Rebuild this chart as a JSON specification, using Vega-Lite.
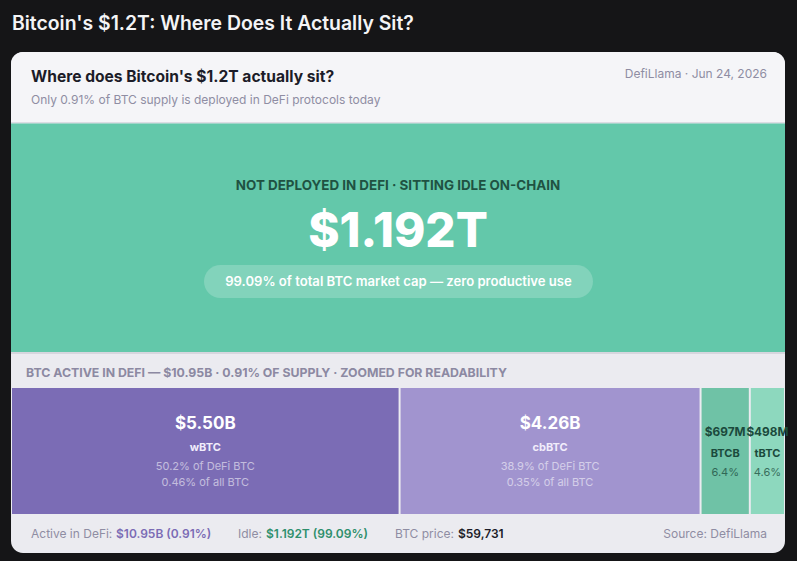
{
  "$schema": "https://vega.github.io/schema/vega-lite/v6.json",
  "width": 797,
  "height": 561,
  "padding": 0,
  "autosize": {"type": "none"},
  "background": "#151517",
  "config": {"view": {"stroke": null}, "text": {"font": "Inter"}},
  "datasets": {
    "one": [{}],
    "defi": [
      {"name": "wBTC", "value": 5.50, "label": "$5.50B", "pctDefi": 50.2, "pctAll": 0.46, "order": 1},
      {"name": "cbBTC", "value": 4.26, "label": "$4.26B", "pctDefi": 38.9, "pctAll": 0.35, "order": 2},
      {"name": "BTCB", "value": 0.697, "label": "$697M", "pctDefi": 6.4, "order": 3},
      {"name": "tBTC", "value": 0.498, "label": "$498M", "pctDefi": 4.6, "order": 4}
    ]
  },
  "layer": [
    {"data": {"name": "one"}, "mark": {"type": "text", "x": 12, "y": 24, "align": "left", "baseline": "middle", "text": "Bitcoin's $1.2T: Where Does It Actually Sit?", "fontSize": 19.4, "fontWeight": 600, "color": "#f4f4f6"}, "encoding": {}},
    {"data": {"name": "one"}, "mark": {"type": "rect", "x": 11, "x2": 785, "y": 52, "y2": 553, "cornerRadius": 12, "color": "#ebebf0"}, "encoding": {}},
    {"data": {"name": "one"}, "mark": {"type": "rect", "x": 11, "x2": 785, "y": 52, "y2": 123, "cornerRadiusTopLeft": 12, "cornerRadiusTopRight": 12, "color": "#f5f5f8"}, "encoding": {}},
    {"data": {"name": "one"}, "mark": {"type": "rect", "x": 11, "x2": 785, "y": 122, "y2": 123.5, "color": "#dcdce3"}, "encoding": {}},
    {"data": {"name": "one"}, "mark": {"type": "rect", "x": 11, "x2": 785, "y": 123.5, "y2": 352, "color": "#63c8aa"}, "encoding": {}},
    {"data": {"name": "one"}, "mark": {"type": "rect", "x": 11, "x2": 785, "y": 352, "y2": 354, "color": "#d6d6de"}, "encoding": {}},
    {"data": {"name": "one"}, "mark": {"type": "text", "x": 31, "y": 77, "align": "left", "baseline": "middle", "text": "Where does Bitcoin's $1.2T actually sit?", "fontSize": 15.6, "fontWeight": 700, "color": "#1c1c28"}, "encoding": {}},
    {"data": {"name": "one"}, "mark": {"type": "text", "x": 31, "y": 100, "align": "left", "baseline": "middle", "text": "Only 0.91% of BTC supply is deployed in DeFi protocols today", "fontSize": 12, "color": "#8f8da3"}, "encoding": {}},
    {"data": {"name": "one"}, "mark": {"type": "text", "x": 767, "y": 74, "align": "right", "baseline": "middle", "text": "DefiLlama · Jun 24, 2026", "fontSize": 12, "color": "#8f8da3"}, "encoding": {}},
    {"data": {"name": "one"}, "mark": {"type": "text", "x": 398, "y": 186, "align": "center", "baseline": "middle", "text": "NOT DEPLOYED IN DEFI · SITTING IDLE ON-CHAIN", "fontSize": 13.4, "fontWeight": 700, "color": "#1f5242"}, "encoding": {}},
    {"data": {"name": "one"}, "mark": {"type": "text", "x": 398, "y": 247, "align": "center", "baseline": "alphabetic", "text": "$1.192T", "fontSize": 47.5, "fontWeight": 800, "color": "#ffffff"}, "encoding": {}},
    {"data": {"name": "one"}, "mark": {"type": "rect", "x": 204, "x2": 593, "y": 265, "y2": 298, "cornerRadius": 16.5, "color": "#ffffff", "opacity": 0.2}, "encoding": {}},
    {"data": {"name": "one"}, "mark": {"type": "text", "x": 398.5, "y": 282, "align": "center", "baseline": "middle", "text": "99.09% of total BTC market cap — zero productive use", "fontSize": 13.1, "fontWeight": 600, "color": "#ffffff"}, "encoding": {}},
    {"data": {"name": "one"}, "mark": {"type": "text", "x": 26, "y": 373, "align": "left", "baseline": "middle", "text": "BTC ACTIVE IN DEFI — $10.95B · 0.91% OF SUPPLY · ZOOMED FOR READABILITY", "fontSize": 12.3, "fontWeight": 700, "color": "#8c89a2"}, "encoding": {}},
    {"data": {"name": "one"}, "mark": {"type": "text", "x": 31, "y": 534, "align": "left", "baseline": "middle", "text": "Active in DeFi:", "fontSize": 12, "color": "#8f8da3"}, "encoding": {}},
    {"data": {"name": "one"}, "mark": {"type": "text", "x": 116, "y": 534, "align": "left", "baseline": "middle", "text": "$10.95B (0.91%)", "fontSize": 12, "fontWeight": 600, "color": "#7b6cb5"}, "encoding": {}},
    {"data": {"name": "one"}, "mark": {"type": "text", "x": 238, "y": 534, "align": "left", "baseline": "middle", "text": "Idle:", "fontSize": 12, "color": "#8f8da3"}, "encoding": {}},
    {"data": {"name": "one"}, "mark": {"type": "text", "x": 266, "y": 534, "align": "left", "baseline": "middle", "text": "$1.192T (99.09%)", "fontSize": 12, "fontWeight": 600, "color": "#2e8f6c"}, "encoding": {}},
    {"data": {"name": "one"}, "mark": {"type": "text", "x": 395, "y": 534, "align": "left", "baseline": "middle", "text": "BTC price:", "fontSize": 12, "color": "#8f8da3"}, "encoding": {}},
    {"data": {"name": "one"}, "mark": {"type": "text", "x": 458, "y": 534, "align": "left", "baseline": "middle", "text": "$59,731", "fontSize": 12, "fontWeight": 600, "color": "#1c1c28"}, "encoding": {}},
    {"data": {"name": "one"}, "mark": {"type": "text", "x": 767, "y": 534, "align": "right", "baseline": "middle", "text": "Source: DefiLlama", "fontSize": 12, "color": "#8f8da3"}, "encoding": {}},
    {
      "data": {"name": "defi"},
      "transform": [
        {"stack": "value", "groupby": [], "sort": [{"field": "order", "order": "ascending"}], "as": ["x0", "x1"]},
        {"calculate": "(datum.x0 + datum.x1) / 2", "as": "mid"},
        {"calculate": "format(datum.pctDefi, '.1f') + '% of DeFi BTC'", "as": "line1"},
        {"calculate": "isValid(datum.pctAll) ? format(datum.pctAll, '.2f') + '% of all BTC' : ''", "as": "line2"},
        {"calculate": "format(datum.pctDefi, '.1f') + '%'", "as": "shortPct"}
      ],
      "layer": [
        {
          "mark": {"type": "rect", "xOffset": 1, "x2Offset": -1, "y": 388, "y2": 514},
          "encoding": {
            "x": {"field": "x0", "type": "quantitative", "scale": {"domain": [0, 10.955], "range": [11, 785], "nice": false, "zero": false}, "axis": null},
            "x2": {"field": "x1"},
            "color": {"field": "name", "type": "nominal", "scale": {"domain": ["wBTC", "cbBTC", "BTCB", "tBTC"], "range": ["#7b6cb5", "#a194cf", "#6fc2a6", "#8dd8be"]}, "legend": null}
          }
        },
        {
          "transform": [{"filter": "datum.value > 1"}],
          "mark": {"type": "text", "y": 424, "baseline": "middle", "align": "center", "fontSize": 17, "fontWeight": 700, "color": "#ffffff"},
          "encoding": {"x": {"field": "mid", "type": "quantitative"}, "text": {"field": "label"}}
        },
        {
          "transform": [{"filter": "datum.value > 1"}],
          "mark": {"type": "text", "y": 448, "baseline": "middle", "align": "center", "fontSize": 11, "fontWeight": 700, "color": "#f1edfb"},
          "encoding": {"x": {"field": "mid", "type": "quantitative"}, "text": {"field": "name"}}
        },
        {
          "transform": [{"filter": "datum.value > 1"}],
          "mark": {"type": "text", "y": 467, "baseline": "middle", "align": "center", "fontSize": 11, "color": "#ffffff", "opacity": 0.55},
          "encoding": {"x": {"field": "mid", "type": "quantitative"}, "text": {"field": "line1"}}
        },
        {
          "transform": [{"filter": "datum.value > 1"}],
          "mark": {"type": "text", "y": 483, "baseline": "middle", "align": "center", "fontSize": 11, "color": "#ffffff", "opacity": 0.55},
          "encoding": {"x": {"field": "mid", "type": "quantitative"}, "text": {"field": "line2"}}
        },
        {
          "transform": [{"filter": "datum.value <= 1"}],
          "mark": {"type": "text", "y": 432, "baseline": "middle", "align": "center", "fontSize": 11.8, "fontWeight": 700, "color": "#1b4a3c"},
          "encoding": {"x": {"field": "mid", "type": "quantitative"}, "text": {"field": "label"}}
        },
        {
          "transform": [{"filter": "datum.value <= 1"}],
          "mark": {"type": "text", "y": 454, "baseline": "middle", "align": "center", "fontSize": 11, "fontWeight": 700, "color": "#1b4a3c"},
          "encoding": {"x": {"field": "mid", "type": "quantitative"}, "text": {"field": "name"}}
        },
        {
          "transform": [{"filter": "datum.value <= 1"}],
          "mark": {"type": "text", "y": 473, "baseline": "middle", "align": "center", "fontSize": 11, "color": "#1b4a3c", "opacity": 0.75},
          "encoding": {"x": {"field": "mid", "type": "quantitative"}, "text": {"field": "shortPct"}}
        }
      ]
    }
  ]
}
